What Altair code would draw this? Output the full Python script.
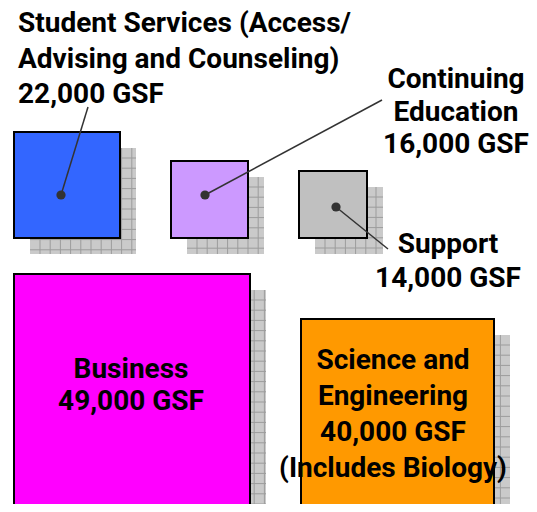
import altair as alt
import pandas as pd
import numpy as np

# ---- data ----
categories = ["Student Services", "Continuing Education", "Support", "Business", "Science and Engineering"]
gsf = [22000, 16000, 14000, 49000, 40000]
label_lines = [
    ["Student Services (Access/", "Advising and Counseling)", "22,000 GSF"],
    ["Continuing", "Education", "16,000 GSF"],
    ["Support", "14,000 GSF"],
    ["Business", "49,000 GSF"],
    ["Science and", "Engineering", "40,000 GSF", "(Includes Biology)"],
]

# ---- layout (pixel positions of the diagram) ----
box_x0 = [14, 171, 299, 14, 301]
box_x1 = [120, 248, 367, 250, 494]
box_y0 = [132, 161, 171, 274, 319]
box_y1 = [238, 238, 238, 510, 511]
colors = ["#3366ff", "#cc99ff", "#c0c0c0", "#ff00ff", "#ff9900"]
shadow_offset = 16

label_x = [18, 456, 448, 131, 393]
label_align = ["left", "center", "center", "center", "center"]
label_y0 = [32, 88, 253, 378, 369]
label_step = [35.5, 32.5, 34, 32, 36]

dot_x = [61, 205, 336]
dot_y = [195, 195, 207]
lead_x = [88, 382, 388]
lead_y = [107, 100, 249]

FONT = "Roboto"
FSIZE = 28

# ---- tables ----
boxes = pd.DataFrame({
    "cat": categories, "x0": box_x0, "x1": box_x1, "y0": box_y0, "y1": box_y1, "color": colors,
})
shadows = pd.DataFrame({
    "cat": categories,
    "x0": [v + shadow_offset for v in box_x0],
    "x1": [v + shadow_offset for v in box_x1],
    "y0": [v + shadow_offset for v in box_y0],
    "y1": [v + shadow_offset for v in box_y1],
})

grid_rows = []
for _, r in shadows.iterrows():
    for gx in np.arange(r.x0 + 10, r.x1, 10.2):
        grid_rows.append({"x": gx, "x2": gx, "y": r.y0, "y2": r.y1})
    for gy in np.arange(r.y0 + 10, r.y1, 10.2):
        grid_rows.append({"x": r.x0, "x2": r.x1, "y": gy, "y2": gy})
grid = pd.DataFrame(grid_rows)

leaders = pd.DataFrame({"x": dot_x, "y": dot_y, "x2": lead_x, "y2": lead_y})
dots = pd.DataFrame({"x": dot_x, "y": dot_y})

text_rows = []
for i, lines in enumerate(label_lines):
    for j, t in enumerate(lines):
        text_rows.append({"text": t, "x": label_x[i], "y": label_y0[i] + j * label_step[i],
                          "align": label_align[i]})
texts = pd.DataFrame(text_rows)

xs = alt.Scale(domain=[8, 529], nice=False, zero=False)
ys = alt.Scale(domain=[8, 504], nice=False, zero=False, reverse=True)

def X(f):
    return alt.X(f, type="quantitative", scale=xs, axis=None)

def Y(f):
    return alt.Y(f, type="quantitative", scale=ys, axis=None)

shadow_layer = alt.Chart(shadows).mark_rect(fill="#cacaca").encode(
    x=X("x0"), x2="x1", y=Y("y0"), y2="y1")
grid_layer = alt.Chart(grid).mark_rule(color="#9c9c9c", strokeWidth=1).encode(
    x=X("x"), x2="x2", y=Y("y"), y2="y2")
box_layer = alt.Chart(boxes).mark_rect(stroke="black", strokeWidth=2).encode(
    x=X("x0"), x2="x1", y=Y("y0"), y2="y1",
    fill=alt.Fill("color:N", scale=None))
leader_layer = alt.Chart(leaders).mark_rule(color="#333333", strokeWidth=1.5).encode(
    x=X("x"), x2="x2", y=Y("y"), y2="y2")
dot_layer = alt.Chart(dots).mark_circle(color="#333333", opacity=1, size=85).encode(
    x=X("x"), y=Y("y"))
text_left = alt.Chart(texts).transform_filter("datum.align == 'left'").mark_text(
    font=FONT, fontWeight="bold", fontSize=FSIZE, align="left", baseline="alphabetic",
    color="black").encode(x=X("x"), y=Y("y"), text="text:N")
text_center = alt.Chart(texts).transform_filter("datum.align == 'center'").mark_text(
    font=FONT, fontWeight="bold", fontSize=FSIZE, align="center", baseline="alphabetic",
    color="black").encode(x=X("x"), y=Y("y"), text="text:N")

chart = alt.layer(
    shadow_layer, grid_layer, box_layer, leader_layer, dot_layer, text_left, text_center
).properties(
    width=521, height=496, padding=0, autosize=alt.AutoSizeParams(type="none"),
    background="white",
).configure_view(stroke=None)

chart.save("out.html", embed_options={"renderer": "svg", "actions": False})
